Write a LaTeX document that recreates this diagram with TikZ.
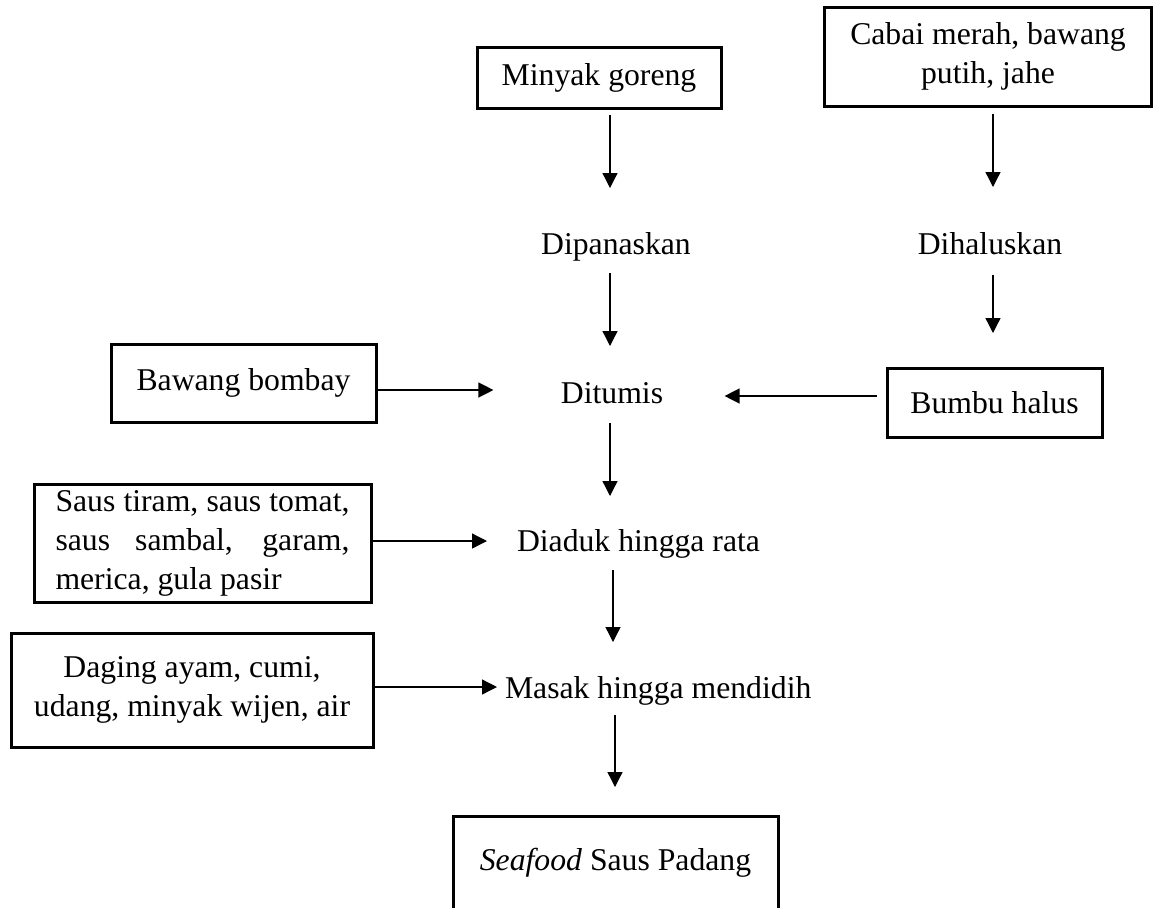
\documentclass[tikz,border=0pt]{standalone}
\usepackage{fontspec}
\setmainfont{Liberation Serif}
\usetikzlibrary{arrows.meta}
\hyphenpenalty=10000
\exhyphenpenalty=10000
\tolerance=10000
\begin{document}
\begin{tikzpicture}[x=0.5pt,y=-0.5pt,
  font=\fontsize{15.85pt}{19.5pt}\selectfont,
  box/.style={draw, line width=1.5pt, inner sep=0pt, outer sep=0pt, align=center},
  lbl/.style={inner sep=0pt, outer sep=0pt, text height=12pt, text depth=4pt},
  arr/.style={line width=0.65pt, -{Triangle[length=7.5pt,width=7.5pt]}}]
\useasboundingbox (0,0) rectangle (1153,907);
\clip (0,0) rectangle (1153,907);

% ingredient boxes and process steps
\node[box, minimum width=122pt, minimum height=30.5pt] (minyak) at (599,77.5) {Minyak goreng};
\node[box, minimum width=163.5pt, minimum height=49.5pt] (cabai) at (988,56.5) {Cabai merah, bawang\\putih, jahe};
\node[lbl] (dipanaskan) at (616,246.5) {Dipanaskan};
\node[lbl] (dihaluskan) at (990,246.5) {Dihaluskan};
\node[box, minimum width=132.5pt, minimum height=39pt] (bombay) at (243.5,383) {Bawang bombay};
\node[lbl] (ditumis) at (612,395.5) {Ditumis};
\node[box, minimum width=107.5pt, minimum height=34.5pt] (bumbu) at (994.5,402.5) {Bumbu halus};
\node[box, minimum width=168.5pt, minimum height=59pt, text width=147pt, align=justify] (saus) at (202.5,543)
  {Saus tiram, saus tomat, saus sambal, garam, merica, gula pasir};
\node[lbl, anchor=west] (diaduk) at (517,543.5) {Diaduk hingga rata};
\node[box, minimum width=181pt, minimum height=57pt] (daging) at (192,690) {Daging ayam, cumi,\\udang, minyak wijen, air};
\node[lbl, anchor=west] (masak) at (505,690) {Masak hingga mendidih};
\node[box, minimum width=162.5pt, minimum height=47pt] (seafood) at (615.5,863) {\textit{Seafood} Saus Padang};

% arrow columns and rows
\coordinate (cA) at (610,0);
\coordinate (cB) at (993,0);
\coordinate (cD) at (613,0);
\coordinate (cE) at (615,0);
\coordinate (r1) at (0,390);
\coordinate (r2) at (0,396);
\coordinate (r3) at (0,541);
\coordinate (r4) at (0,687);

% connectors
\draw[arr, shorten <=3.5pt, shorten >=21.25pt] (minyak.south -| cA) -- (dipanaskan.north -| cA);
\draw[arr, shorten <=4pt, shorten >=21.75pt] (cabai.south -| cB) -- (dihaluskan.north -| cB);
\draw[arr, shorten <=5.25pt, shorten >=16.75pt] (dipanaskan.south -| cA) -- (ditumis.north -| cA);
\draw[arr, shorten <=6.25pt, shorten >=17.5pt] (dihaluskan.south -| cB) -- (bumbu.north -| cB);
\draw[arr, shorten >=33.75pt] (bombay.east |- r1) -- (ditumis.west |- r1);
\draw[arr, shorten <=5pt, shorten >=30.75pt] (bumbu.west |- r2) -- (ditumis.east |- r2);
\draw[arr, shorten <=5.75pt, shorten >=15.75pt] (ditumis.south -| cA) -- (diaduk.north -| cA);
\draw[arr, shorten >=15pt] (saus.east |- r3) -- (diaduk.west |- r3);
\draw[arr, shorten <=5.25pt, shorten >=16pt] (diaduk.south -| cD) -- (masak.north -| cD);
\draw[arr, shorten >=4pt] (daging.east |- r4) -- (masak.west |- r4);
\draw[arr, shorten <=4.5pt, shorten >=14.5pt] (masak.south -| cE) -- (seafood.north -| cE);
\end{tikzpicture}
\end{document}
